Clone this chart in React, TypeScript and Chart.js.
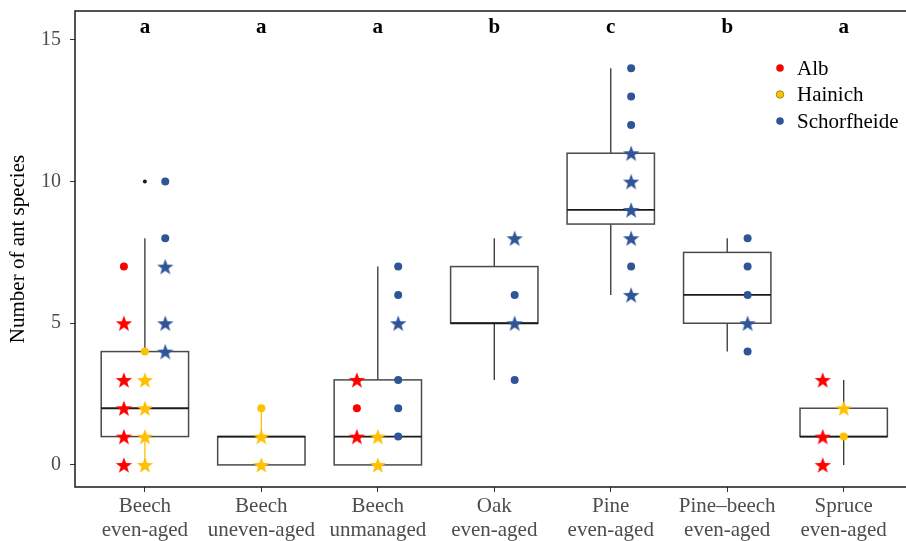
import React, { useEffect, useRef } from "react";
import { Chart, registerables } from "chart.js";

Chart.register(...registerables);

// ---- data ----
const categories: string[][] = [
  ["Beech", "even-aged"],
  ["Beech", "uneven-aged"],
  ["Beech", "unmanaged"],
  ["Oak", "even-aged"],
  ["Pine", "even-aged"],
  ["Pine\u2013beech", "even-aged"],
  ["Spruce", "even-aged"],
];
const groupLetters = ["a", "a", "a", "b", "c", "b", "a"];
const yTicks = [0, 5, 10, 15];

const boxLow = [0, 0, 0, 3, 6, 4, 0];
const boxQ1 = [1, 0, 0, 5, 8.5, 5, 1];
const boxMedian = [2, 1, 1, 5, 9, 6, 1];
const boxQ3 = [4, 1, 3, 7, 11, 7.5, 2];
const boxHigh = [8, 2, 7, 8, 14, 8, 3];
const outlierCat = [1];
const outlierVal = [10];

const regions = ["Alb", "Hainich", "Schorfheide"];

const albCircleCat = [1, 3];
const albCircleVal = [7, 2];
const albStarCat = [1, 1, 1, 1, 1, 3, 3, 7, 7, 7];
const albStarVal = [5, 3, 2, 1, 0, 3, 1, 3, 1, 0];

const hainichCircleCat = [1, 2, 7];
const hainichCircleVal = [4, 2, 1];
const hainichStarCat = [1, 1, 1, 1, 2, 2, 3, 3, 7];
const hainichStarVal = [3, 2, 1, 0, 1, 0, 1, 0, 2];

const schorfCircleCat = [1, 1, 3, 3, 3, 3, 3, 4, 4, 5, 5, 5, 5, 6, 6, 6, 6];
const schorfCircleVal = [10, 8, 7, 6, 3, 2, 1, 6, 3, 14, 13, 12, 7, 8, 7, 6, 4];
const schorfStarCat = [1, 1, 1, 3, 4, 4, 5, 5, 5, 5, 5, 6];
const schorfStarVal = [7, 5, 4, 5, 8, 5, 11, 10, 9, 8, 6, 5];

// ---- styles ----
const regionColors = ["#FF0000", "#FFC000", "#2F5597"];
const regionOffsets = [-0.18, 0, 0.175];
const whiskerLowColors = ["#FFC000", "#333333", "#333333", "#333333", "#333333", "#333333", "#333333"];
const whiskerHighColors = ["#333333", "#FFC000", "#333333", "#333333", "#333333", "#333333", "#333333"];
const letterLevel = 15.45;
const SERIF = "'Liberation Serif', 'Times New Roman', serif";

function makeStar(color: string): HTMLCanvasElement {
  const c = document.createElement("canvas");
  const s = 20;
  c.width = s;
  c.height = s;
  const g = c.getContext("2d")!;
  const R = 8.6;
  const r = 3.5;
  const cx = s / 2;
  const cy = s / 2 + 0.8;
  g.beginPath();
  for (let i = 0; i < 10; i++) {
    const ang = -Math.PI / 2 + (i * Math.PI) / 5;
    const rad = i % 2 === 0 ? R : r;
    const px = cx + rad * Math.cos(ang);
    const py = cy + rad * Math.sin(ang);
    if (i === 0) g.moveTo(px, py);
    else g.lineTo(px, py);
  }
  g.closePath();
  g.fillStyle = color;
  g.fill();
  return c;
}

function pts(cats: number[], vals: number[], off: number) {
  return cats.map((c, i) => ({ x: c + off, y: vals[i] }));
}

// the plot panel runs off the right edge of the picture
const stretchPlugin = {
  id: "stretch",
  afterLayout(chart: any) {
    const x = chart.scales.x;
    x.right = chart.width;
    x.width = x.right - x.left;
    x.configure();
    chart.chartArea.right = chart.width;
    chart.chartArea.width = chart.chartArea.right - chart.chartArea.left;
  },
};

const boxPlugin = {
  id: "boxes",
  beforeDatasetsDraw(chart: any) {
    const { ctx, scales } = chart;
    const x = scales.x;
    const y = scales.y;
    ctx.save();
    for (let i = 0; i < categories.length; i++) {
      const c = i + 1;
      const xl = x.getPixelForValue(c - 0.375);
      const xr = x.getPixelForValue(c + 0.375);
      const xc = x.getPixelForValue(c);
      const yq1 = y.getPixelForValue(boxQ1[i]);
      const yq3 = y.getPixelForValue(boxQ3[i]);
      const ymed = y.getPixelForValue(boxMedian[i]);
      const ylo = y.getPixelForValue(boxLow[i]);
      const yhi = y.getPixelForValue(boxHigh[i]);
      ctx.lineWidth = 1.3;
      ctx.strokeStyle = whiskerHighColors[i];
      ctx.beginPath();
      ctx.moveTo(xc, yq3);
      ctx.lineTo(xc, yhi);
      ctx.stroke();
      ctx.strokeStyle = whiskerLowColors[i];
      ctx.beginPath();
      ctx.moveTo(xc, yq1);
      ctx.lineTo(xc, ylo);
      ctx.stroke();
      ctx.fillStyle = "#ffffff";
      ctx.fillRect(xl, yq3, xr - xl, yq1 - yq3);
      ctx.strokeStyle = "#4a4a4a";
      ctx.lineWidth = 1.5;
      ctx.strokeRect(xl, yq3, xr - xl, yq1 - yq3);
      ctx.strokeStyle = "#1a1a1a";
      ctx.lineWidth = 1.8;
      ctx.beginPath();
      ctx.moveTo(xl, ymed);
      ctx.lineTo(xr, ymed);
      ctx.stroke();
    }
    ctx.restore();
  },
};

const decorPlugin = {
  id: "decor",
  afterDraw(chart: any) {
    const { ctx, chartArea, scales } = chart;
    const x = scales.x;
    const y = scales.y;
    ctx.save();
    // frame (top, left, bottom)
    ctx.strokeStyle = "#1a1a1a";
    ctx.lineWidth = 1.5;
    ctx.beginPath();
    ctx.moveTo(chartArea.right + 2, chartArea.top);
    ctx.lineTo(chartArea.left, chartArea.top);
    ctx.lineTo(chartArea.left, chartArea.bottom);
    ctx.lineTo(chartArea.right + 2, chartArea.bottom);
    ctx.stroke();
    // group letters
    ctx.fillStyle = "#000";
    ctx.font = `bold 21px ${SERIF}`;
    ctx.textAlign = "center";
    ctx.textBaseline = "middle";
    const ly = y.getPixelForValue(letterLevel);
    groupLetters.forEach((l, i) => {
      ctx.fillText(l, x.getPixelForValue(i + 1), ly);
    });
    // legend
    ctx.font = `21px ${SERIF}`;
    ctx.textAlign = "left";
    const lx = chartArea.right - 126;
    regions.forEach((r, i) => {
      const yy = chartArea.top + 57 + i * 26.5;
      ctx.beginPath();
      ctx.arc(lx, yy, 3.8, 0, Math.PI * 2);
      ctx.fillStyle = regionColors[i];
      ctx.fill();
      if (i === 1) {
        ctx.strokeStyle = "#8a7a10";
        ctx.lineWidth = 0.8;
        ctx.stroke();
      }
      ctx.fillStyle = "#000";
      ctx.fillText(r, lx + 17, yy + 1);
    });
    ctx.restore();
  },
};

export default function App() {
  const ref = useRef<HTMLCanvasElement>(null);

  useEffect(() => {
    if (!ref.current) return;
    document.body.style.margin = "0";
    document.body.style.overflow = "hidden";
    const stars = regionColors.map((c) => makeStar(c));
    const circleSets = [
      [albCircleCat, albCircleVal],
      [hainichCircleCat, hainichCircleVal],
      [schorfCircleCat, schorfCircleVal],
    ];
    const starSets = [
      [albStarCat, albStarVal],
      [hainichStarCat, hainichStarVal],
      [schorfStarCat, schorfStarVal],
    ];
    const datasets: any[] = [];
    regions.forEach((r, i) => {
      datasets.push({
        label: r + " (stars)",
        data: pts(starSets[i][0], starSets[i][1], regionOffsets[i]),
        pointStyle: stars[i],
        backgroundColor: regionColors[i],
        borderColor: regionColors[i],
        pointRadius: 8,
      });
      datasets.push({
        label: r,
        data: pts(circleSets[i][0], circleSets[i][1], regionOffsets[i]),
        pointStyle: "circle",
        backgroundColor: regionColors[i],
        borderColor: regionColors[i],
        borderWidth: 0,
        pointRadius: 4,
      });
    });
    datasets.push({
      label: "outliers",
      data: pts(outlierCat, outlierVal, 0),
      pointStyle: "circle",
      backgroundColor: "#1a1a1a",
      borderColor: "#1a1a1a",
      borderWidth: 0,
      pointRadius: 2,
    });

    const chart = new Chart(ref.current, {
      type: "scatter",
      data: { datasets },
      options: {
        animation: false,
        responsive: false,
        devicePixelRatio: 1,
        events: [],
        layout: { padding: { top: 11, left: 0, right: 0, bottom: 0 } },
        plugins: {
          legend: { display: false },
          tooltip: { enabled: false },
        },
        scales: {
          x: {
            type: "linear",
            min: 0.4,
            max: 7.535,
            afterBuildTicks: (s: any) => {
              s.ticks = categories.map((_, i) => ({ value: i + 1 }));
            },
            afterFit: (s: any) => {
              s.height = 54;
              s.paddingLeft = 0;
              s.paddingRight = 0;
            },
            ticks: {
              callback: (v: any) => categories[Math.round(Number(v)) - 1],
              color: "#4d4d4d",
              font: { family: SERIF, size: 21, lineHeight: 1.15 },
              padding: 2,
              maxRotation: 0,
              autoSkip: false,
            },
            grid: { drawOnChartArea: false, tickLength: 5, color: "#333", lineWidth: 1 },
            border: { display: false },
          },
          y: {
            type: "linear",
            min: -0.78,
            max: 16.02,
            afterBuildTicks: (s: any) => {
              s.ticks = yTicks.map((v) => ({ value: v }));
            },
            afterFit: (s: any) => {
              s.width = 75;
              s.paddingTop = 0;
              s.paddingBottom = 0;
            },
            ticks: {
              color: "#4d4d4d",
              font: { family: SERIF, size: 20 },
              padding: 9,
            },
            grid: { drawOnChartArea: false, tickLength: 5, color: "#333", lineWidth: 1 },
            border: { display: false },
            title: {
              display: true,
              text: "Number of ant species",
              color: "#000",
              font: { family: SERIF, size: 21 },
              padding: { top: 6, bottom: 0 },
            },
          },
        },
      },
      plugins: [stretchPlugin, boxPlugin, decorPlugin],
    } as any);
    return () => chart.destroy();
  }, []);

  return (
    <div style={{ position: "absolute", left: 0, top: 0, width: 906, height: 541, background: "#fff", overflow: "hidden" }}>
      <canvas ref={ref} width={906} height={541} style={{ display: "block" }} />
    </div>
  );
}
